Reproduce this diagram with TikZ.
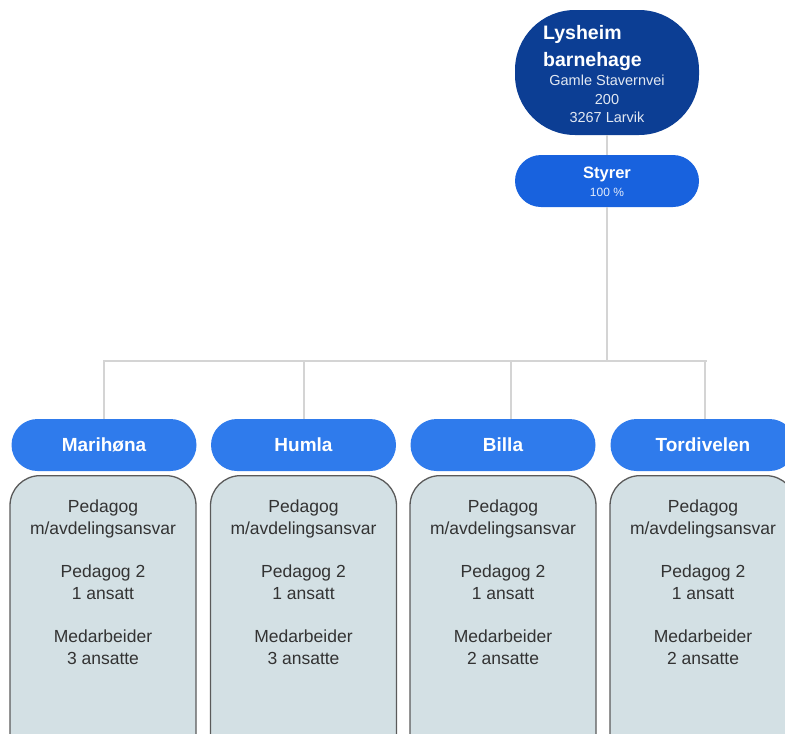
\documentclass[tikz,border=0pt]{standalone}
\usepackage{fontspec}
\setmainfont{Liberation Sans}
\definecolor{topblue}{HTML}{0C3E94}
\definecolor{styrblue}{HTML}{1862DE}
\definecolor{depblue}{HTML}{2F7BEC}
\definecolor{bodyfill}{HTML}{D3E0E4}
\definecolor{bodyline}{HTML}{5A5A5A}
\definecolor{connline}{HTML}{D4D4D4}
\definecolor{bodytext}{HTML}{333333}
\tikzset{
  conn/.style={draw=connline, line width=2pt},
  topbox/.style={fill=topblue, rounded corners=60pt, minimum width=184pt, minimum height=125pt, inner sep=0pt},
  styrbox/.style={fill=styrblue, rounded corners=26pt, minimum width=184pt, minimum height=52pt, inner sep=0pt, text=white, align=center},
  depbox/.style={fill=depblue, rounded corners=26pt, minimum width=185pt, minimum height=52pt, inner sep=0pt, text=white, font=\fontsize{19}{22}\selectfont\bfseries},
  bodybox/.style={fill=bodyfill, draw=bodyline, line width=1.3pt, rounded corners=30pt, minimum width=186pt, minimum height=320pt, anchor=north, inner sep=0pt},
  bodytxt/.style={anchor=north, align=center, text=bodytext, font=\fontsize{17.5}{22}\selectfont, inner sep=0pt},
}
\begin{document}
\begin{tikzpicture}[x=1pt,y=-1pt]
\useasboundingbox (0,0) rectangle (785,734);
\clip (0,0) rectangle (785,734);
% top
\node[topbox] (top) at (607,72.5) {};
\node[text=white, anchor=north west, align=left, inner sep=0pt, font=\fontsize{19.5}{27.5}\selectfont\bfseries] (topname) at (543,25) {Lysheim\\barnehage};
\node[text=white!88!topblue, anchor=north, align=center, inner sep=0pt, font=\fontsize{14.5}{18.5}\selectfont] (topaddr) at (607,75) {Gamle Stavernvei\\200\\3267 Larvik};
% styrer
\node[styrbox] (styrer) at (607,181) {};
\node[text=white, inner sep=0pt, font=\fontsize{16.5}{18}\selectfont\bfseries] (styrername) at (607,174) {Styrer};
\node[text=white!88!styrblue, inner sep=0pt, font=\fontsize{12}{14}\selectfont] (styrerpct) at (607,192) {100 \%};
% bus
\coordinate (bus) at (607,361);
\coordinate (busend) at (707,361);
\draw[conn] (top) -- (styrer);
\draw[conn] (styrer) -- (bus);
% departments
\node[depbox] (d1) at (104,445) {Marihøna};
\node[depbox] (d2) at (303.5,445) {Humla};
\node[depbox] (d3) at (503,445) {Billa};
\node[depbox] (d4) at (703,445) {Tordivelen};
\draw[conn] (d1.north) |- (bus);
\draw[conn] (d2.north) |- (bus);
\draw[conn] ([xshift=8pt]d3.north) |- (bus);
\draw[conn] ([xshift=2pt]d4.north) |- (bus) -- (busend);
% bodies
\node[bodybox] (b1) at (103,475) {};
\node[bodybox] (b2) at (303.5,475) {};
\node[bodybox] (b3) at (503,475) {};
\node[bodybox] (b4) at (703,475) {};
\node[bodytxt] (t1) at (b1.north |- 0,500) {Pedagog\\m/avdelingsansvar\\[21pt]Pedagog 2\\1 ansatt\\[21pt]Medarbeider\\3 ansatte};
\node[bodytxt] (t2) at (b2.north |- 0,500) {Pedagog\\m/avdelingsansvar\\[21pt]Pedagog 2\\1 ansatt\\[21pt]Medarbeider\\3 ansatte};
\node[bodytxt] (t3) at (b3.north |- 0,500) {Pedagog\\m/avdelingsansvar\\[21pt]Pedagog 2\\1 ansatt\\[21pt]Medarbeider\\2 ansatte};
\node[bodytxt] (t4) at (b4.north |- 0,500) {Pedagog\\m/avdelingsansvar\\[21pt]Pedagog 2\\1 ansatt\\[21pt]Medarbeider\\2 ansatte};
\end{tikzpicture}
\end{document}
